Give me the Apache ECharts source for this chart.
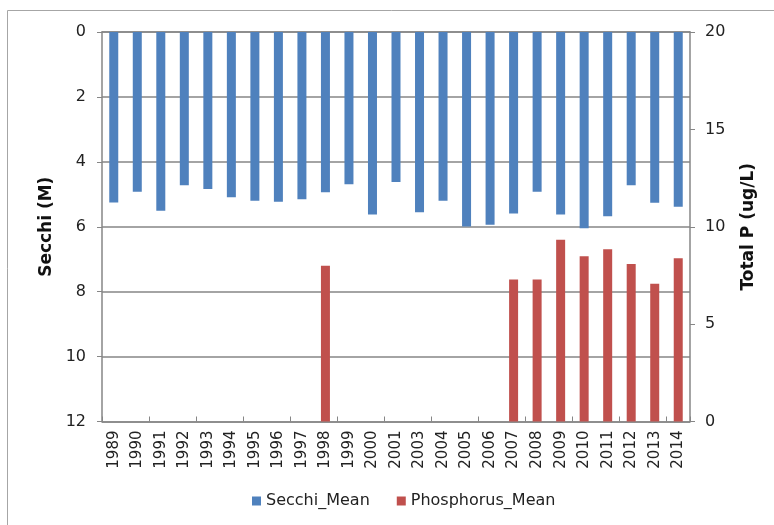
<!DOCTYPE html>
<html><head><meta charset="utf-8">
<script src="https://cdn.jsdelivr.net/npm/echarts@6/dist/echarts.min.js"></script>
<style>html,body{margin:0;padding:0;background:#fff}#c{width:774px;height:525px}</style>
</head><body><div id="c"></div>
<script>
const years = ['1989','1990','1991','1992','1993','1994','1995','1996','1997','1998','1999','2000','2001','2003','2004','2005','2006','2007','2008','2009','2010','2011','2012','2013','2014'];
const secchiMean = [5.25,4.92,5.51,4.72,4.84,5.09,5.2,5.23,5.15,4.94,4.69,5.62,4.62,5.55,5.2,5.99,5.94,5.59,4.92,5.62,6.05,5.68,4.72,5.26,5.38];
const phosphorusMean = [null,null,null,null,null,null,null,null,null,8.0,null,null,null,null,null,null,null,7.29,7.29,9.33,8.48,8.84,8.09,7.07,8.38];
const leftTicks = {min:0, max:12, interval:2};
const rightTicks = {min:0, max:20, interval:5};

const font = 'DejaVu Sans';
const grey = '#868686';
const chart = echarts.init(document.getElementById('c'));
chart.setOption({
  animation:false,
  textStyle:{fontFamily:font},
  graphic:[{type:'rect',shape:{x:7.5,y:10.5,width:800,height:600},style:{fill:'none',stroke:'#a6a6a6',lineWidth:1},silent:true}],
  grid:{left:102,right:84,top:32,bottom:103.5},
  legend:{bottom:11,left:247,itemWidth:9,itemHeight:9,itemGap:27,icon:'rect',
    textStyle:{fontFamily:font,fontSize:16,color:'#222'},
    data:['Secchi_Mean','Phosphorus_Mean']},
  xAxis:[
    {type:'category',data:years,position:'bottom',boundaryGap:true,
     axisLine:{lineStyle:{color:grey,width:1.5}},axisTick:{show:false},
     axisLabel:{rotate:90,interval:0,fontSize:15,color:'#222',margin:9}},
    {type:'category',data:years,position:'top',boundaryGap:true,
     axisLine:{lineStyle:{color:grey,width:1.5}},axisTick:{show:true,length:5,lineStyle:{color:grey}},
     axisLabel:{show:false}}
  ],
  yAxis:[
    {type:'value',inverse:true,min:leftTicks.min,max:leftTicks.max,interval:leftTicks.interval,
     name:'Secchi (M)',nameLocation:'middle',nameGap:44,nameRotate:90,
     nameTextStyle:{fontFamily:font,fontSize:17,fontWeight:'bold',color:'#111'},
     axisLine:{show:true,lineStyle:{color:grey,width:1.5}},axisTick:{show:true,length:5,lineStyle:{color:grey}},
     axisLabel:{fontSize:16,color:'#222',margin:16},
     splitLine:{show:true,lineStyle:{color:grey,width:1.5}}},
    {type:'value',position:'right',min:rightTicks.min,max:rightTicks.max,interval:rightTicks.interval,
     name:'Total P (ug/L)',nameLocation:'middle',nameGap:50,nameRotate:90,
     nameTextStyle:{fontFamily:font,fontSize:17,fontWeight:'bold',color:'#111'},
     axisLine:{show:true,lineStyle:{color:grey,width:1.5}},axisTick:{show:true,length:5,lineStyle:{color:grey}},
     axisLabel:{fontSize:16,color:'#222',margin:15},
     splitLine:{show:false}}
  ],
  series:[
    {name:'Secchi_Mean',type:'bar',xAxisIndex:1,yAxisIndex:0,data:secchiMean,barWidth:9,
     itemStyle:{color:'#4F81BD'}},
    {name:'Phosphorus_Mean',type:'bar',xAxisIndex:0,yAxisIndex:1,data:phosphorusMean,barWidth:9,
     itemStyle:{color:'#C0504D'}}
  ]
});
</script></body></html>
